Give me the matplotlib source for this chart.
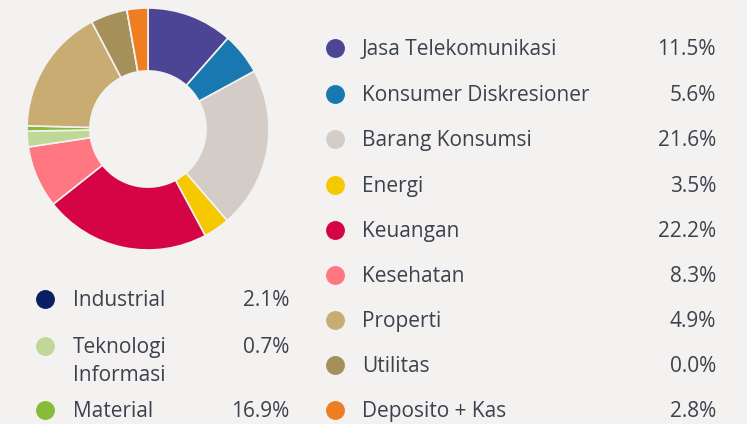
import matplotlib
matplotlib.use("Agg")
import matplotlib.pyplot as plt

# Sector allocation data
sectors = ["Jasa Telekomunikasi", "Konsumer Diskresioner", "Barang Konsumsi", "Energi",
           "Keuangan", "Kesehatan", "Industrial", "Teknologi\nInformasi", "Material",
           "Properti", "Utilitas", "Deposito + Kas"]
weights = [11.5, 5.6, 21.6, 3.5, 22.2, 8.3, 2.1, 0.7, 16.9, 4.9, 0.0, 2.8]
legend_colors = ["#4c4494", "#1a78b0", "#d4ccc6", "#f5c800", "#d50545", "#ff7780",
                 "#0a1f62", "#bfd897", "#86bc3a", "#c8ac72", "#a59059", "#ef7d22"]
slice_colors = ["#4c4494", "#1a78b0", "#d4ccc6", "#f5c800", "#d50545", "#ff7780",
                "#bfd897", "#86bc3a", "#c8ac72", "#a59059", "#a59059", "#ef7d22"]

BG = "#f4f2f0"
TXT = "#3b424d"
W, H = 747, 424

plt.rcParams["font.family"] = ["Open Sans", "DejaVu Sans"]

fig = plt.figure(figsize=(W / 100, H / 100), dpi=100, facecolor=BG)

# Donut
cx, cy, r = 148, 129, 121
pie_ax = fig.add_axes([(cx - r) / W, (H - cy - r) / H, 2 * r / W, 2 * r / H])
pie_ax.pie(weights, colors=slice_colors, startangle=90, counterclock=False,
           radius=1.0, wedgeprops=dict(width=0.52, edgecolor=BG, linewidth=1.2))
pie_ax.set_xlim(-1.0, 1.0)
pie_ax.set_ylim(-1.0, 1.0)
pie_ax.set_aspect("equal")
pie_ax.axis("off")

# Legend layer in pixel coordinates
lg = fig.add_axes([0, 0, 1, 1])
lg.set_xlim(0, W)
lg.set_ylim(H, 0)
lg.axis("off")
lg.patch.set_alpha(0)

fs = 15.0
dy = 1.5  # baseline nudge so text sits level with the markers
right_rows = [0, 1, 2, 3, 4, 5, 9, 10, 11]
right_y = [48, 94, 139, 185, 230, 275, 320, 365, 410]
left_rows = [6, 7, 8]
left_y = [299, 346, 410]


def marker(x, y, i):
    lg.scatter([x], [y], s=185, color=legend_colors[i], linewidths=0, zorder=3)


def value(x, y, i):
    lg.text(x, y + dy, f"{weights[i]:.1f}%", ha="right", va="center", fontsize=fs, color=TXT)


for i, y in zip(right_rows, right_y):
    marker(335, y, i)
    lg.text(362, y + dy, sectors[i], ha="left", va="center", fontsize=fs, color=TXT)
    value(716, y, i)

for i, y in zip(left_rows, left_y):
    marker(45, y, i)
    if "\n" in sectors[i]:
        first, second = sectors[i].split("\n")
        lg.text(73, y + dy, first, ha="left", va="center", fontsize=fs, color=TXT)
        lg.text(73, y + dy + 28, second, ha="left", va="center", fontsize=fs, color=TXT)
    else:
        lg.text(73, y + dy, sectors[i], ha="left", va="center", fontsize=fs, color=TXT)
    value(289, y, i)

fig.savefig("out.png", dpi=100, facecolor=BG)
